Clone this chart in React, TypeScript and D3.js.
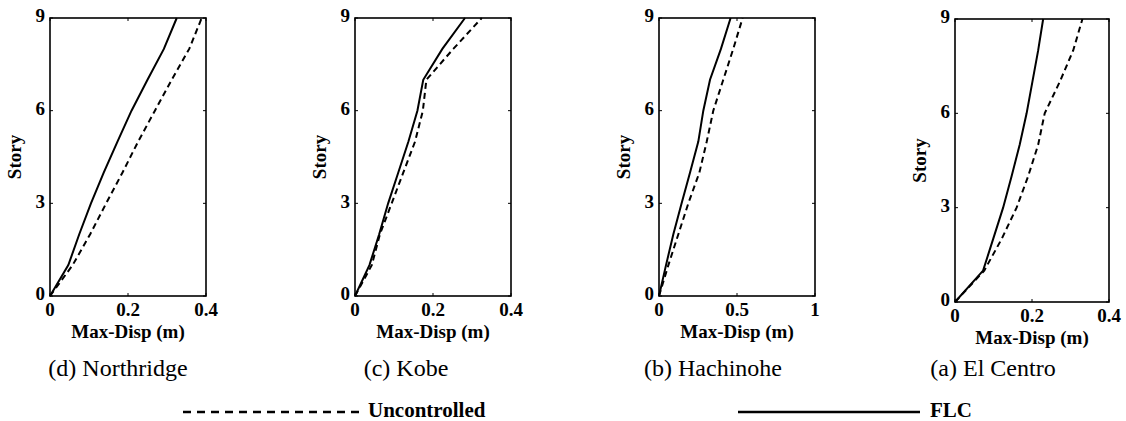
import React from "react";
import * as d3 from "d3";

const stories = [0, 1, 2, 3, 4, 5, 6, 7, 8, 9];
const storyTicks = [0, 3, 6, 9];

const northridgeFLC = [0, 0.047, 0.075, 0.105, 0.138, 0.173, 0.209, 0.25, 0.292, 0.325];
const northridgeUnc = [0, 0.058, 0.103, 0.144, 0.186, 0.226, 0.269, 0.312, 0.357, 0.389];
const kobeFLC = [0, 0.037, 0.062, 0.085, 0.111, 0.137, 0.16, 0.175, 0.224, 0.282];
const kobeUnc = [0, 0.043, 0.064, 0.094, 0.124, 0.154, 0.174, 0.183, 0.252, 0.325];
const hachinoheFLC = [0, 0.045, 0.092, 0.145, 0.199, 0.252, 0.284, 0.327, 0.397, 0.459];
const hachinoheUnc = [0, 0.06, 0.124, 0.188, 0.259, 0.306, 0.348, 0.412, 0.476, 0.536];
const elCentroFLC = [0, 0.073, 0.099, 0.125, 0.147, 0.168, 0.186, 0.201, 0.216, 0.229];
const elCentroUnc = [0, 0.076, 0.121, 0.16, 0.19, 0.216, 0.233, 0.272, 0.307, 0.331];

const xTicks04 = [0, 0.2, 0.4];
const xTicks1 = [0, 0.5, 1];
const xTickLabels04 = ["0", "0.2", "0.4"];
const xTickLabels1 = ["0", "0.5", "1"];

const captions = ["(d) Northridge", "(c) Kobe", "(b) Hachinohe", "(a) El Centro"];
const legendLabels = ["Uncontrolled", "FLC"];

const FONT = "'Liberation Serif', 'Times New Roman', serif";

type PanelSpec = {
  left: number;
  right: number;
  top: number;
  bottom: number;
  xMax: number;
  xTicks: number[];
  xTickLabels: string[];
  flc: number[];
  unc: number[];
  caption: string;
};

const panels: PanelSpec[] = [
  { left: 50, right: 206, top: 18, bottom: 296, xMax: 0.4, xTicks: xTicks04, xTickLabels: xTickLabels04, flc: northridgeFLC, unc: northridgeUnc, caption: captions[0] },
  { left: 355, right: 511, top: 18, bottom: 296, xMax: 0.4, xTicks: xTicks04, xTickLabels: xTickLabels04, flc: kobeFLC, unc: kobeUnc, caption: captions[1] },
  { left: 659, right: 815, top: 18, bottom: 296, xMax: 1, xTicks: xTicks1, xTickLabels: xTickLabels1, flc: hachinoheFLC, unc: hachinoheUnc, caption: captions[2] },
  { left: 955, right: 1109, top: 19, bottom: 302, xMax: 0.4, xTicks: xTicks04, xTickLabels: xTickLabels04, flc: elCentroFLC, unc: elCentroUnc, caption: captions[3] },
];

const captionX = [118, 406, 713, 993];

function Panel({ p, i }: { p: PanelSpec; i: number }) {
  const x = d3.scaleLinear().domain([0, p.xMax]).range([p.left, p.right]);
  const y = d3.scaleLinear().domain([0, 9]).range([p.bottom, p.top]);
  const line = d3
    .line<number>()
    .x((d) => x(d))
    .y((_, k) => y(stories[k]));
  const tl = 3;
  const cx = (p.left + p.right) / 2;
  const cy = (p.top + p.bottom) / 2;
  return (
    <g>
      <path d={line(p.unc) || ""} fill="none" stroke="#000" strokeWidth={2} strokeDasharray="6,4" />
      <path d={line(p.flc) || ""} fill="none" stroke="#000" strokeWidth={2} />
      <rect x={p.left} y={p.top} width={p.right - p.left} height={p.bottom - p.top} fill="none" stroke="#000" strokeWidth={1.6} />
      {p.xTicks.map((t) => (
        <g key={"xt" + t}>
          <line x1={x(t)} x2={x(t)} y1={p.bottom} y2={p.bottom - tl} stroke="#000" strokeWidth={1} />
          <line x1={x(t)} x2={x(t)} y1={p.top} y2={p.top + tl} stroke="#000" strokeWidth={1} />
        </g>
      ))}
      {storyTicks.map((t) => (
        <g key={"yt" + t}>
          <line x1={p.left} x2={p.left + tl} y1={y(t)} y2={y(t)} stroke="#000" strokeWidth={1} />
          <line x1={p.right} x2={p.right - tl} y1={y(t)} y2={y(t)} stroke="#000" strokeWidth={1} />
        </g>
      ))}
      {p.xTicks.map((t, k) => (
        <text key={"xl" + t} x={x(t)} y={p.bottom + 16} textAnchor="middle" dominantBaseline="middle" fontFamily={FONT} fontWeight="bold" fontSize={19}>
          {p.xTickLabels[k]}
        </text>
      ))}
      {storyTicks.map((t) => (
        <text key={"yl" + t} x={p.left - 5} y={y(t)} textAnchor="end" dominantBaseline="middle" fontFamily={FONT} fontWeight="bold" fontSize={19}>
          {t}
        </text>
      ))}
      <text x={p.left - 33} y={cy} transform={`rotate(-90, ${p.left - 33}, ${cy})`} textAnchor="middle" dominantBaseline="middle" fontFamily={FONT} fontWeight="bold" fontSize={19}>
        Story
      </text>
      <text x={cx} y={p.bottom + 38} textAnchor="middle" dominantBaseline="middle" fontFamily={FONT} fontWeight="bold" fontSize={19}>
        Max-Disp (m)
      </text>
      <text x={captionX[i]} y={370} textAnchor="middle" dominantBaseline="middle" fontFamily={FONT} fontSize={24}>
        {p.caption}
      </text>
    </g>
  );
}

export default function App() {
  const legendY = 412;
  return (
    <svg width={1126} height={421} style={{ position: "fixed", left: 0, top: 0, background: "#fff" }}>
      <rect x={0} y={0} width={1126} height={421} fill="#fff" />
      {panels.map((p, i) => (
        <Panel key={i} p={p} i={i} />
      ))}
      <line x1={183} x2={362} y1={legendY} y2={legendY} stroke="#000" strokeWidth={2.5} strokeDasharray="8,6" />
      <text x={368} y={legendY} dominantBaseline="middle" fontFamily={FONT} fontWeight="bold" fontSize={21}>
        {legendLabels[0]}
      </text>
      <line x1={738} x2={920} y1={legendY} y2={legendY} stroke="#000" strokeWidth={2.5} />
      <text x={930} y={legendY} dominantBaseline="middle" fontFamily={FONT} fontWeight="bold" fontSize={21}>
        {legendLabels[1]}
      </text>
    </svg>
  );
}
